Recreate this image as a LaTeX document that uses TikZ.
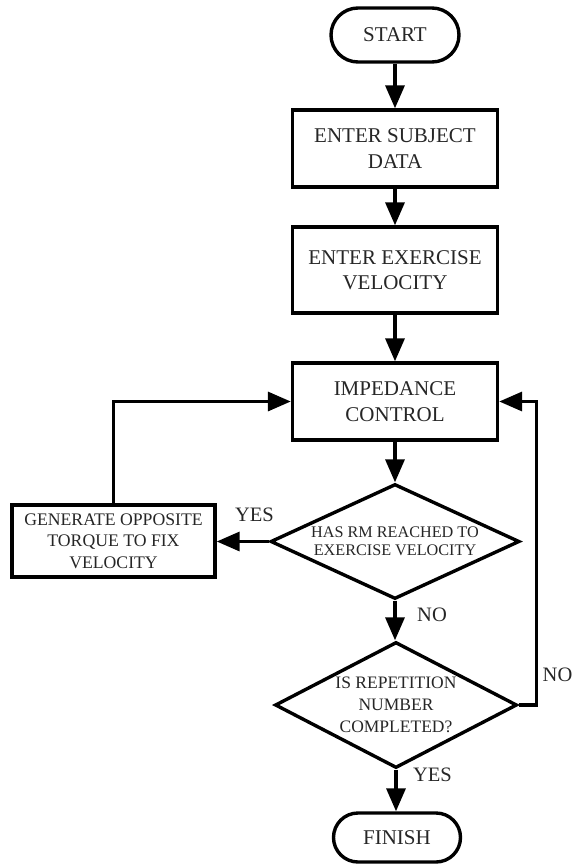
\documentclass[tikz,border=0pt]{standalone}
\usepackage{fontspec}
\setmainfont{Liberation Serif}
\usetikzlibrary{arrows.meta,shapes.geometric}
\begin{document}
\begin{tikzpicture}[x=1pt,y=-1pt,
  line width=3.4pt,
  every node/.style={text=black!85},
  term/.style={draw=black, inner sep=0pt, font=\fontsize{21}{24}\selectfont},
  proc/.style={draw=black, minimum width=205pt, align=center, inner sep=0pt, font=\fontsize{21}{25.5}\selectfont},
  gen/.style={draw=black, minimum width=203pt, minimum height=72pt, align=center, inner sep=0pt, font=\fontsize{17.7}{21.7}\selectfont},
  dec/.style={draw=black, diamond, inner sep=0pt, align=center},
  arr/.style={-{Triangle[length=23pt,width=19pt]}},
  lbl/.style={font=\fontsize{20.5}{22}\selectfont}]
\useasboundingbox (0,0) rectangle (576,865);
\node[term, rounded corners=27pt, minimum width=128pt, minimum height=54pt] (start) at (395,35) {START};
\node[proc, minimum height=77pt] (subj) at (395,148.5) {ENTER SUBJECT\\DATA};
\node[proc, minimum height=86pt] (vel) at (395,270) {ENTER EXERCISE\\VELOCITY};
\node[proc, minimum height=77pt] (imp) at (395,401.5) {IMPEDANCE\\CONTROL};
\node[dec, aspect=2.17, minimum width=249pt, minimum height=115pt, font=\fontsize{16.2}{18.4}\selectfont] (rm) at (395,541.5) {HAS RM REACHED TO\\EXERCISE VELOCITY};
\node[gen] (gen) at (113.5,541) {GENERATE OPPOSITE\\TORQUE TO FIX\\VELOCITY};
\node[dec, aspect=1.92, minimum width=242pt, minimum height=126pt, font=\fontsize{17.5}{22}\selectfont] (rep) at (396,705) {IS REPETITION\\NUMBER\\COMPLETED?};
\node[term, rounded corners=24.5pt, minimum width=127pt, minimum height=49pt] (fin) at (397,837.5) {FINISH};
\coordinate (lc) at (113.5,401.5);
\coordinate (rc) at (536.5,401.5);
\coordinate (rb) at (536.5,705);
\draw[arr] (start) -- (subj);
\draw[arr] (subj) -- (vel);
\draw[arr] (vel) -- (imp);
\draw[arr] (imp) -- (imp.south |- rm.north);
\draw[arr] (rm.west) -- (rm.west -| gen.east);
\draw[arr] (gen.north) -- (lc) -- (imp.west);
\draw[arr] (rm.south) -- (rm.south |- rep.north);
\draw[arr] (rep.east) -- (rb) -- (rc) -- (imp.east);
\draw[arr] (rep.south) -- (rep.south |- fin.north);
\node[lbl] (yes1) at (254.5,515) {YES};
\node[lbl] (no1) at (432,615) {NO};
\node[lbl] (no2) at (557.5,675) {NO};
\node[lbl] (yes2) at (432.5,775) {YES};
\end{tikzpicture}
\end{document}
